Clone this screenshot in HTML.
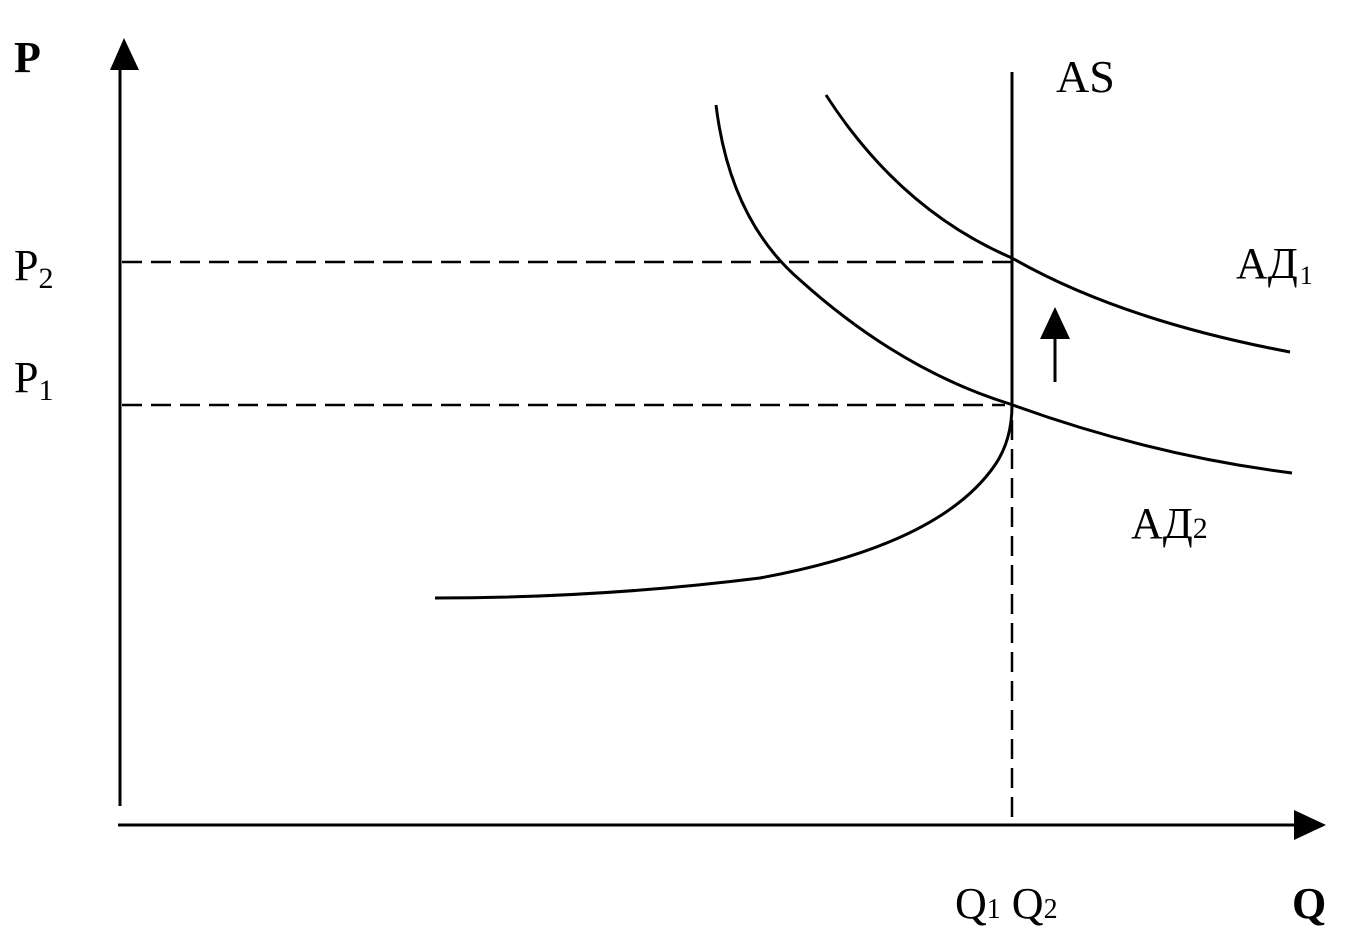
<!DOCTYPE html>
<html><head><meta charset="utf-8"><style>
html,body{margin:0;padding:0;background:#fff;}
svg{display:block;}
text{font-family:"Liberation Serif",serif;fill:#000;}
</style></head><body>
<svg width="1350" height="950" viewBox="0 0 1350 950" xmlns="http://www.w3.org/2000/svg">
<g stroke="#000" stroke-width="3" fill="none">
<line x1="120" y1="65" x2="120" y2="806"/>
<line x1="118" y1="825" x2="1300" y2="825"/>
<line x1="1012" y1="72" x2="1012" y2="405"/>
<path d="M1012,405 Q1012,440 995,465 Q940,545 760,578 Q600,598 435,598"/>
<path d="M826,95 Q900,210 1012,258 Q1120,320 1290,352"/>
<path d="M716,105 Q730,220 800,280 Q900,370 1010,404 Q1150,455 1292,473"/>
<g stroke-dasharray="20,9" stroke-width="2.5">
<line x1="122" y1="262" x2="1012" y2="262"/>
<line x1="122" y1="405" x2="1005" y2="405"/>
<line x1="1012" y1="420" x2="1012" y2="822"/>
</g>
<line x1="1055" y1="335" x2="1055" y2="382"/>
</g>
<polygon points="124,38 110,70 139,70" fill="#000"/>
<polygon points="1326,825 1294,810 1294,840" fill="#000"/>
<polygon points="1055,307 1040,339 1070,339" fill="#000"/>
<text x="14" y="72" font-size="44" font-weight="bold">P</text>
<text x="14" y="280" font-size="44">P<tspan font-size="30" dy="8">2</tspan></text>
<text x="14" y="392" font-size="44">P<tspan font-size="30" dy="8">1</tspan></text>
<text x="1056" y="92" font-size="46">AS</text>
<text x="1236" y="278" font-size="44">АД<tspan font-size="26" dy="6" dx="2">1</tspan></text>
<text x="1131" y="538" font-size="44">АД<tspan font-size="30">2</tspan></text>
<text x="955" y="918" font-size="44">Q<tspan font-size="28">1</tspan><tspan> Q</tspan><tspan font-size="28">2</tspan></text>
<text x="1292" y="918" font-size="44" font-weight="bold">Q</text>
</svg>
</body></html>
